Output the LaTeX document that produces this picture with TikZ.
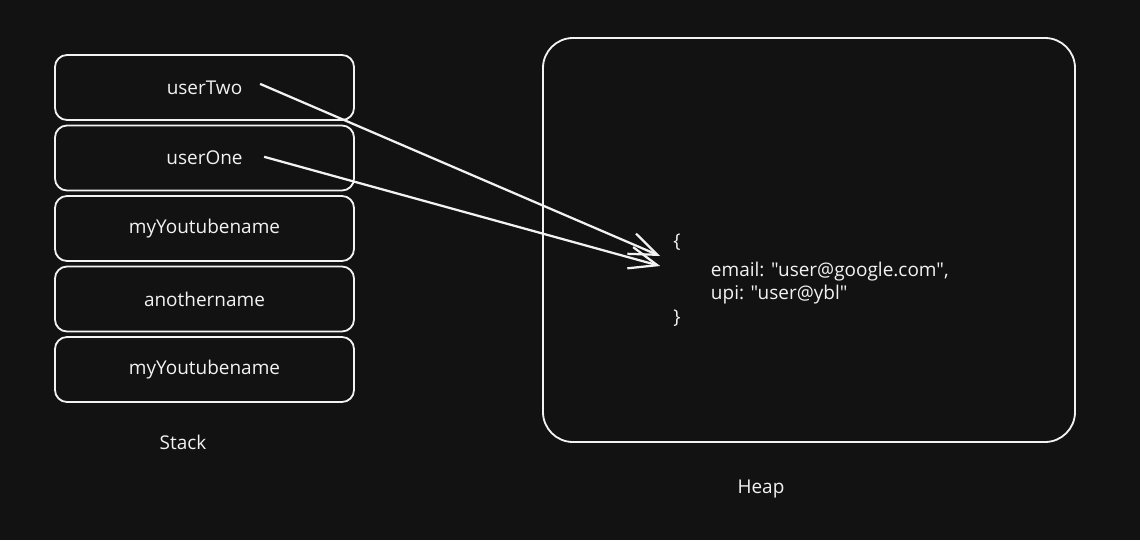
\documentclass[tikz,border=0pt]{standalone}
\usepackage{fontspec}
\setmainfont{Open Sans}[Ligatures=TeXOff]
\usepackage{tikz}
\usetikzlibrary{calc, positioning, arrows.meta}
\definecolor{bg}{HTML}{121212}
\definecolor{ink}{HTML}{F2F2F2}
\tikzstyle{slot}  = [rectangle, rounded corners=0.3cm, minimum width=7.475cm, minimum height=1.625cm, text centered, draw=ink, line width=1.3pt, text=ink, font=\fontsize{13.5}{16}\selectfont]
\tikzstyle{label} = [text=ink, font=\fontsize{13.5}{16}\selectfont]
\tikzstyle{arrow} = [draw=ink, line width=1.6pt, -{Straight Barb[length=0.7cm, width=0.55cm, line width=1.6pt]}]

\begin{document}
\begin{tikzpicture}[node distance=1.7625cm]
      \fill [bg] (0,0) rectangle (28.5,13.5);
      \useasboundingbox (0,0) rectangle (28.5,13.5);

      % Stack
      \node (u2) [slot] at (5.1125,11.3125) {userTwo};
      \node (u1) [slot, below of=u2]        {userOne};
      \node (n1) [slot, below of=u1]        {myYoutubename};
      \node (n2) [slot, below of=n1]        {anothername};
      \node (n3) [slot, below of=n2]        {myYoutubename};
      \node (stack) [label] at (4.575,2.45) {Stack};

      % Heap
      \node (heap) [rectangle, rounded corners=0.75cm, draw=ink, line width=1.3pt,
                    minimum width=13.3cm, minimum height=10.1cm] at (20.225,7.5) {};
      \node (heaplbl) [label] at (19.025,1.275) {Heap};

      \node (ob)  [label] at (16.925,7.45) {\{};
      \node (cb)  [label] at (16.925,5.55) {\}};
      \node (obj) [label, anchor=west, align=left] at (17.65,6.425)
            {email: "user@google.com",\\upi: "user@ybl"};

      \coordinate (u2ref) at ([xshift=1.39cm, yshift=0.09cm]u2.center);
      \coordinate (u1ref) at ([xshift=1.49cm, yshift=0.03cm]u1.center);
      \coordinate (in2)   at ([xshift=-0.42cm, yshift=-0.35cm]ob.center);
      \coordinate (in1)   at ([xshift=-0.42cm, yshift=-0.6cm]ob.center);

      \draw [arrow] (u2ref) -- (in2);
      \draw [arrow] (u1ref) -- (in1);
    \end{tikzpicture}
\end{document}
